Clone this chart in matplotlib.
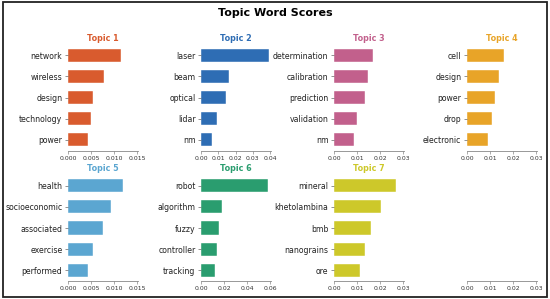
import matplotlib
matplotlib.use("Agg")
import matplotlib.pyplot as plt
from matplotlib.patches import Rectangle

topics = ["Topic 1", "Topic 2", "Topic 3", "Topic 4", "Topic 5", "Topic 6", "Topic 7"]
colors = ["#D95B2E", "#2E6DB4", "#C2608C", "#E8A428", "#5BA6D1", "#2A9D6F", "#CDC82A"]
words = [
    ["network", "wireless", "design", "technology", "power"],
    ["laser", "beam", "optical", "lidar", "nm"],
    ["determination", "calibration", "prediction", "validation", "nm"],
    ["cell", "design", "power", "drop", "electronic"],
    ["health", "socioeconomic", "associated", "exercise", "performed"],
    ["robot", "algorithm", "fuzzy", "controller", "tracking"],
    ["mineral", "khetolambina", "bmb", "nanograins", "ore"],
]
scores = [
    [0.0114, 0.0079, 0.0054, 0.0049, 0.0044],
    [0.0394, 0.0164, 0.0146, 0.0094, 0.0066],
    [0.0170, 0.0149, 0.0133, 0.0099, 0.0088],
    [0.0159, 0.0138, 0.0123, 0.0108, 0.0092],
    [0.0120, 0.0094, 0.0075, 0.0054, 0.0043],
    [0.0585, 0.0181, 0.0160, 0.0137, 0.0122],
    [0.0267, 0.0206, 0.0160, 0.0133, 0.0113],
]
xticks = [
    [0.000, 0.005, 0.010, 0.015],
    [0.00, 0.01, 0.02, 0.03, 0.04],
    [0.00, 0.01, 0.02, 0.03],
    [0.00, 0.01, 0.02, 0.03],
    [0.000, 0.005, 0.010, 0.015],
    [0.00, 0.02, 0.04, 0.06],
    [0.00, 0.01, 0.02, 0.03],
    [0.00, 0.01, 0.02, 0.03],
]
tickfmt = ["%.3f", "%.2f", "%.2f", "%.2f", "%.3f", "%.2f", "%.2f", "%.2f"]

W, H = 550, 299
fig = plt.figure(figsize=(W / 100, H / 100), dpi=100)
fig.patches.append(Rectangle((0.006, 0.008), 0.988, 0.984, transform=fig.transFigure,
                             fill=False, edgecolor="#222222", linewidth=1.3))
fig.text(0.5, 1 - 13 / H, "Topic Word Scores", ha="center", va="center",
         fontsize=8, fontweight="bold")

lefts = [68, 201, 334, 467]
rows = [(44, 151), (174.7, 281.3)]
aw = 69.5

for i in range(8):
    r, c = divmod(i, 4)
    top, bot = rows[r]
    ax = fig.add_axes([lefts[c] / W, 1 - bot / H, aw / W, (bot - top) / H])
    for s in ["top", "right", "left"]:
        ax.spines[s].set_visible(False)
    ax.spines["bottom"].set_color("#888888")
    ax.spines["bottom"].set_linewidth(0.6)
    ax.tick_params(axis="x", length=2, width=0.5, color="#888888", labelsize=4.4,
                   labelcolor="#333333", pad=1.5)
    ax.tick_params(axis="y", length=2.5, width=0.5, color="#666666", labelsize=5.6,
                   labelcolor="#222222", pad=1.5)
    ax.set_xticks(xticks[i])
    ax.set_xticklabels([tickfmt[i] % t for t in xticks[i]])
    ax.set_xlim(0, xticks[i][-1] * 1.005)
    if i < 7:
        y = list(range(len(words[i])))
        ax.barh(y, scores[i], height=0.62, color=colors[i], edgecolor="white",
                linewidth=0.3)
        ax.set_yticks(y)
        ax.set_yticklabels(words[i])
        ax.set_ylim(4.53, -0.53)
        ax.set_title(topics[i], color=colors[i], fontsize=5.8, fontweight="bold", pad=2.5)
    else:
        ax.set_yticks([])
        ax.set_ylim(4.53, -0.53)

fig.savefig("out.png", dpi=100)
